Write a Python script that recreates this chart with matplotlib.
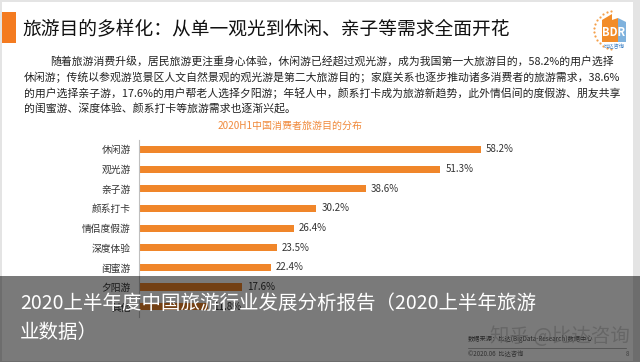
import matplotlib
matplotlib.use('Agg')
import matplotlib.pyplot as plt
from matplotlib.patches import Rectangle, Polygon
import numpy as np

plt.rcParams['font.family'] = ['Noto Sans CJK SC', 'DejaVu Sans']

# 数据
categories = ['休闲游', '观光游', '亲子游', '颜系打卡', '情侣度假游', '深度体验', '闺蜜游', '夕阳游', '其他']
values = [58.2, 51.3, 38.6, 30.2, 26.4, 23.5, 22.4, 17.6, 11.8]

title = '旅游目的多样化：从单一观光到休闲、亲子等需求全面开花'
paragraph = [
    '随着旅游消费升级，居民旅游更注重身心体验，休闲游已经超过观光游，成为我国第一大旅游目的，58.2%的用户选择',
    '休闲游；传统以参观游览景区人文自然景观的观光游是第二大旅游目的；家庭关系也逐步推动诸多消费者的旅游需求，38.6%',
    '的用户选择亲子游，17.6%的用户帮老人选择夕阳游；年轻人中，颜系打卡成为旅游新趋势，此外情侣间的度假游、朋友共享',
    '的闺蜜游、深度体验、颜系打卡等旅游需求也逐渐兴起。',
]
chart_title = '2020H1中国消费者旅游目的分布'
overlay_lines = ['2020上半年度中国旅游行业发展分析报告（2020上半年旅游', '业数据）']

W, H = 640, 362
ORANGE = '#F0862A'

def fx(px):
    return px / W

def fy(py):
    return 1 - py / H

fig = plt.figure(figsize=(6.4, 3.62), dpi=100)
fig.patch.set_facecolor('#e4e4e4')

# 白色页面
fig.patches.append(Rectangle((fx(2), fy(361)), fx(631), 359 / H, transform=fig.transFigure,
                             facecolor='white', edgecolor='none', zorder=-2))

# 标题
fig.patches.append(Rectangle((fx(2), fy(43)), fx(14), 31 / H, transform=fig.transFigure,
                             facecolor='#F47B20', edgecolor='none', zorder=1))
fig.text(fx(22), fy(29), title, fontsize=13.5, color='#111111', va='center', ha='left')

# 正文
ys = [62, 77.5, 93, 109]
xs = [50, 24, 24, 24]
for x, y, line in zip(xs, ys, paragraph):
    fig.text(fx(x), fy(y), line, fontsize=7.8, color='#222222', va='center', ha='left')

fig.text(fx(290), fy(126), chart_title, fontsize=7.2, color='#F08A3C', va='center', ha='center')

# 条形图
ax = fig.add_axes([fx(139), fy(316.5), fx(470), 176.9 / H])
ax.set_zorder(2)
y = np.arange(len(categories))
ax.barh(y, values, height=0.36, color=ORANGE)
ax.set_ylim(len(categories) - 0.5, -0.5)
ax.set_xlim(0, 80)
ax.set_yticks(y)
ax.set_yticklabels(categories, fontsize=7, color='#333333')
ax.tick_params(axis='y', length=0, pad=6)
ax.set_xticks([])
for s in ['top', 'right', 'bottom']:
    ax.spines[s].set_visible(False)
ax.spines['left'].set_color('#bfbfbf')
ax.spines['left'].set_linewidth(0.8)
ax.set_facecolor('none')
for i, v in enumerate(values):
    ax.annotate(f'{v}%', (v, i), xytext=(3.5, 0), textcoords='offset points',
                fontsize=7, color='#333333', va='center', ha='left')

# 页脚
fig.text(fx(468), fy(339), '数据来源：比达(BigData-Research)数据中心', fontsize=4.5, color='#555555', va='center')
fig.lines.append(plt.Line2D([fx(468), fx(626)], [fy(348), fy(348)], transform=fig.transFigure,
                            color='#999999', lw=0.5))
fig.text(fx(468), fy(354), '©2020.06  比达咨询', fontsize=4.5, color='#666666', va='center')
fig.text(fx(626), fy(354), '8', fontsize=4.5, color='#888888', va='center')

# 标志
lax = fig.add_axes([fx(590), fy(50), fx(44), 44 / H])
lax.set_zorder(2)
lax.set_xlim(0, 44)
lax.set_ylim(44, 0)
lax.axis('off')
t = np.linspace(np.pi * 0.55, np.pi * 1.45, 14)
lax.scatter(24 + 20 * np.cos(t), 24 + 19 * np.sin(t), s=2.5, color='#F5A04A', lw=0)
lax.add_patch(Polygon([[12, 36], [12, 14], [22, 8], [22, 14], [28, 12], [28, 36]], closed=True,
                      facecolor='#F28C28', edgecolor='none'))
lax.add_patch(Polygon([[28, 36], [28, 12], [36, 16], [36, 36]], closed=True,
                      facecolor='#7FB2DD', edgecolor='none'))
lax.text(24, 27, 'BDR', fontsize=8, color='white', ha='center', va='center', fontweight='bold')
lax.text(24, 40, '比达咨询', fontsize=3.8, color='#3B7FC4', ha='center', va='center')

# 水印
fig.text(fx(490), fy(337), '知乎 @比达咨询', fontsize=14, color='#bbbbbb', alpha=0.6, va='center', zorder=5)

# 底部遮罩
fig.patches.append(Rectangle((0, 0), 1, 86 / H, transform=fig.transFigure,
                             facecolor='black', alpha=0.52, edgecolor='none', zorder=10))
fig.text(fx(20), fy(303), overlay_lines[0], fontsize=14, color='white', va='center', zorder=11)
fig.text(fx(20), fy(332), overlay_lines[1], fontsize=14, color='white', va='center', zorder=11)

fig.savefig('out.png', dpi=100)
